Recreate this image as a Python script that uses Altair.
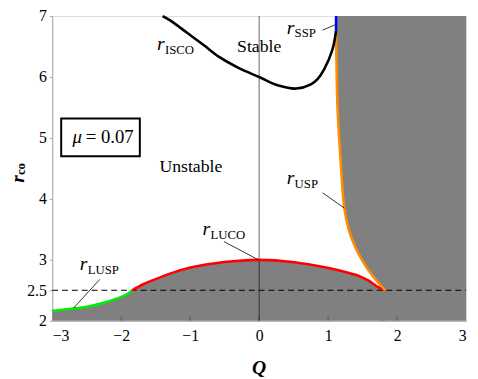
import altair as alt
import pandas as pd

# ---- curves (Q, r) ----
isco_q = [-1.40, -1.29, -1.05, -0.80, -0.58, -0.30, 0.00, 0.28, 0.54, 0.75, 0.85, 0.94, 1.06, 1.115]
isco_r = [7.00, 6.93, 6.73, 6.52, 6.33, 6.15, 6.00, 5.86, 5.81, 5.88, 5.97, 6.12, 6.44, 6.76]

ssp_q = [1.115, 1.115]
ssp_r = [6.76, 7.00]

usp_r = [6.76, 6.00, 5.54, 5.00, 4.48, 3.85, 3.42, 3.00, 2.73, 2.50]
usp_q = [1.115, 1.125, 1.135, 1.16, 1.19, 1.235, 1.32, 1.49, 1.65, 1.83]

luco_q = [-1.84, -1.68, -1.51, -1.25, -1.01, -0.66, -0.34, 0.00, 0.51, 0.99, 1.25, 1.46, 1.60, 1.70, 1.83]
luco_r = [2.50, 2.60, 2.68, 2.79, 2.87, 2.94, 2.98, 3.00, 2.96, 2.87, 2.80, 2.73, 2.65, 2.57, 2.50]

lusp_q = [-3.00, -2.85, -2.69, -2.38, -2.10, -1.91, -1.84]
lusp_r = [2.165, 2.18, 2.20, 2.26, 2.35, 2.44, 2.50]

x_ticks = [-3, -2, -1, 0, 1, 2, 3]
y_ticks = [2, 2.5, 3, 4, 5, 6, 7]
inner_ticks = [-2, -1, 0, 1, 2]

# ---- annotations ----
r_lab_q = [-1.48, 0.40, 0.40, -0.82, -2.60]
r_lab_r = [6.44, 6.714, 4.25, 3.41, 2.83]
sub_text = ["ISCO", "SSP", "USP", "LUCO", "LUSP"]

word_text = ["Stable", "Unstable"]
word_q = [0.0, -0.99]
word_r = [6.41, 4.44]

lead_q = [0.92, 0.92, -0.51, -2.31]
lead_r = [6.77, 4.10, 3.30, 2.68]
lead_q2 = [1.097, 1.235, -0.01, -2.69]
lead_r2 = [6.855, 3.85, 3.00, 2.21]

box_q = [-2.87, -1.73]
box_r = [4.70, 5.32]

FONT = "Liberation Serif"

xs = alt.Scale(domain=[-3, 3], nice=False, zero=False)
ys = alt.Scale(domain=[2, 7], nice=False, zero=False)

x_axis = alt.Axis(values=x_ticks, ticks=False, labelPadding=7, title=None, grid=False,
                  labelFont=FONT, labelFontSize=16, labelColor="black", domainColor="#a8a8a8",
                  format="~g", labelExpr="replace(datum.label, '-', '\u2212')")
y_axis = alt.Axis(values=y_ticks, tickSize=3, labelPadding=3, title=None, grid=False,
                  labelFont=FONT, labelFontSize=16, labelColor="black", domainColor="#a8a8a8",
                  tickColor="#a8a8a8", format="~g")

# gray regions
left_df = pd.DataFrame({"q": lusp_q + luco_q[1:], "r": lusp_r + luco_r[1:]})
right_r = [2.0, 2.45] + usp_r[::-1] + [7.0]
right_q = [1.75, 1.75] + usp_q[::-1] + [ssp_q[0]]
right_df = pd.DataFrame({"r": right_r, "q": right_q, "qe": [3.0] * len(right_r)})

left_area = alt.Chart(left_df).mark_area(color="#808080", interpolate="monotone").encode(
    x=alt.X("q:Q", scale=xs, axis=x_axis),
    y=alt.Y("r:Q", scale=ys, axis=y_axis),
    y2=alt.datum(2),
)
right_area = alt.Chart(right_df).mark_area(color="#808080", orient="horizontal").encode(
    y=alt.Y("r:Q", scale=ys, stack=None), x=alt.X("q:Q", scale=xs), x2="qe:Q",
)

vline = alt.Chart(pd.DataFrame({"q": [0]})).mark_rule(color="black", opacity=0.5, strokeWidth=1.2).encode(
    x=alt.X("q:Q", scale=xs), y=alt.datum(2), y2=alt.datum(7))
hline = alt.Chart(pd.DataFrame({"r": [2.5]})).mark_rule(color="black", strokeDash=[6, 4], strokeWidth=1.1).encode(
    y=alt.Y("r:Q", scale=ys), x=alt.datum(-3), x2=alt.datum(3))
tick_marks = alt.Chart(pd.DataFrame({"q": inner_ticks})).mark_rule(color="black", opacity=0.35).encode(
    x=alt.X("q:Q", scale=xs), y=alt.datum(2), y2=alt.datum(2.07))

def curve(qs, rs, color, interp="monotone", w=2.6):
    df = pd.DataFrame({"q": qs, "r": rs, "i": list(range(len(qs)))})
    return alt.Chart(df).mark_line(color=color, strokeWidth=w, interpolate=interp).encode(
        x=alt.X("q:Q", scale=xs), y=alt.Y("r:Q", scale=ys), order="i:Q")

green = curve(lusp_q, lusp_r, "#00ee00")
red = curve(luco_q, luco_r, "#ff0000")
orange = curve(usp_q, usp_r, "#ff8c00", interp="catmull-rom")
isco = curve(isco_q, isco_r, "black", interp="catmull-rom")
blue = curve(ssp_q, ssp_r, "#0000ff", interp="linear")

leaders = alt.Chart(pd.DataFrame({"q": lead_q, "r": lead_r, "q2": lead_q2, "r2": lead_r2})).mark_rule(
    color="black", strokeWidth=0.8).encode(
    x=alt.X("q:Q", scale=xs), y=alt.Y("r:Q", scale=ys), x2="q2:Q", y2="r2:Q")

rdf = pd.DataFrame({"q": r_lab_q, "r": r_lab_r, "t": ["r"] * 5, "s": sub_text})
r_main = alt.Chart(rdf).mark_text(font=FONT, fontSize=20, fontStyle="italic", align="left",
                                  baseline="alphabetic").encode(
    x=alt.X("q:Q", scale=xs), y=alt.Y("r:Q", scale=ys), text="t:N")
r_sub = alt.Chart(rdf).mark_text(font=FONT, fontSize=13, align="left", baseline="alphabetic",
                                 dx=8, dy=4).encode(
    x=alt.X("q:Q", scale=xs), y=alt.Y("r:Q", scale=ys), text="s:N")

words = alt.Chart(pd.DataFrame({"q": word_q, "r": word_r, "t": word_text})).mark_text(
    font=FONT, fontSize=18, align="center", baseline="alphabetic").encode(
    x=alt.X("q:Q", scale=xs), y=alt.Y("r:Q", scale=ys), text="t:N")

box = alt.Chart(pd.DataFrame({"q": [box_q[0]], "q2": [box_q[1]], "r": [box_r[0]], "r2": [box_r[1]]})).mark_rect(
    fill="white", stroke="black", strokeWidth=2).encode(
    x=alt.X("q:Q", scale=xs), x2="q2:Q", y=alt.Y("r:Q", scale=ys), y2="r2:Q")
mu_df = pd.DataFrame({"q": [-2.30], "r": [4.92], "a": ["μ"], "b": ["= 0.07"]})
mu1 = alt.Chart(mu_df).mark_text(font=FONT, fontSize=19, fontStyle="italic", align="right",
                                 baseline="alphabetic", dx=-19).encode(
    x=alt.X("q:Q", scale=xs), y=alt.Y("r:Q", scale=ys), text="a:N")
mu2 = alt.Chart(mu_df).mark_text(font=FONT, fontSize=19, align="left", baseline="alphabetic",
                                 dx=-15).encode(
    x=alt.X("q:Q", scale=xs), y=alt.Y("r:Q", scale=ys), text="b:N")

# axis titles as text
xt = alt.Chart(pd.DataFrame({"q": [0.0], "r": [1.23], "t": ["Q"]})).mark_text(
    font=FONT, fontSize=20, fontStyle="italic", fontWeight="bold", align="center", baseline="middle").encode(
    x=alt.X("q:Q", scale=xs), y=alt.Y("r:Q", scale=ys), text="t:N")
yt1 = alt.Chart(pd.DataFrame({"q": [-3.49], "r": [4.33], "t": ["r"]})).mark_text(
    font=FONT, fontSize=19, fontStyle="italic", fontWeight="bold", angle=270, align="center",
    baseline="middle").encode(
    x=alt.X("q:Q", scale=xs), y=alt.Y("r:Q", scale=ys), text="t:N")
yt2 = alt.Chart(pd.DataFrame({"q": [-3.45], "r": [4.49], "t": ["co"]})).mark_text(
    font=FONT, fontSize=13, fontWeight="bold", angle=270, align="center",
    baseline="middle").encode(
    x=alt.X("q:Q", scale=xs), y=alt.Y("r:Q", scale=ys), text="t:N")

chart = alt.layer(
    left_area, right_area, tick_marks, vline, hline, green, red, orange, isco, blue,
    leaders, r_main, r_sub, words, box, mu1, mu2, xt, yt1, yt2,
).properties(
    width=421, height=310, autosize="none",
    padding={"left": 45, "top": 5, "right": 4, "bottom": 56},
).configure_view(stroke="#b0b0b0", strokeWidth=1).configure(background="white")

chart.save("out.html", embed_options={"renderer": "svg", "actions": False})
